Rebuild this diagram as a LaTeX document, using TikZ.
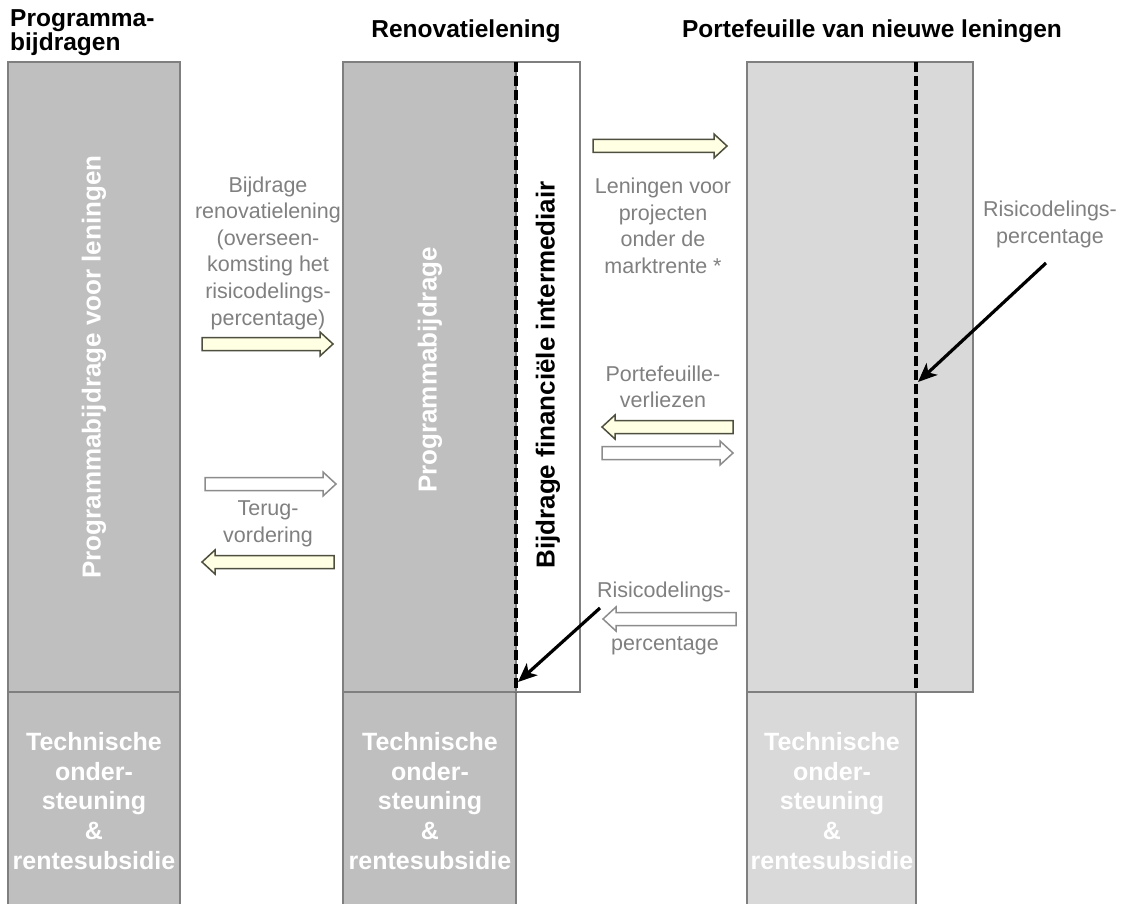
\documentclass[tikz,border=0pt]{standalone}
\usepackage{fontspec}
\setmainfont{Liberation Sans}
\usetikzlibrary{arrows.meta}
\definecolor{boxdark}{HTML}{BFBFBF}
\definecolor{boxlight}{HTML}{D9D9D9}
\definecolor{boxedge}{HTML}{7F7F7F}
\definecolor{labelgray}{HTML}{808080}
\definecolor{paleyellow}{HTML}{FFFFE3}
\definecolor{oliveedge}{HTML}{4F4F3F}
\definecolor{whiteedge}{HTML}{8C8C8C}
\tikzset{
  colbox/.style={draw=boxedge, line width=1.3pt, inner sep=0pt, outer sep=0pt, anchor=north west},
  hdr/.style={font=\fontsize{24.5}{26.5}\selectfont\bfseries, text=black, inner sep=0pt},
  lbl/.style={font=\fontsize{21.5}{26.6}\selectfont, text=labelgray, align=center, inner sep=0pt},
  vtext/.style={rotate=90, font=\fontsize{26}{30}\selectfont\bfseries, inner sep=0pt},
  lowtext/.style={font=\fontsize{25}{29.6}\selectfont\bfseries, text=white, align=center, inner sep=0pt},
  divider/.style={draw=black, line width=3.6pt, dash pattern=on 10pt off 4pt},
  pointer/.style={draw=black, line width=3.2pt, -{Stealth[length=19pt,width=16pt,inset=5pt]}},
  yarrow/.style={draw=oliveedge, line width=1.5pt, fill=paleyellow, line join=miter},
  warrow/.style={draw=whiteedge, line width=1.5pt, fill=white, line join=miter},
}
\newcommand{\blockR}[5]{%
  \draw[#2] (#3,#5-6.5) -- (#4-13,#5-6.5) -- (#4-13,#5-12) -- (#4,#5) -- (#4-13,#5+12) -- (#4-13,#5+6.5) -- (#3,#5+6.5) -- cycle;
  \coordinate (#1) at (#3,#5);}
\newcommand{\blockL}[5]{%
  \draw[#2] (#4,#5-6.5) -- (#3+13,#5-6.5) -- (#3+13,#5-12) -- (#3,#5) -- (#3+13,#5+12) -- (#3+13,#5+6.5) -- (#4,#5+6.5) -- cycle;
  \coordinate (#1) at (#3,#5);}
\begin{document}
\begin{tikzpicture}[x=1pt,y=-1pt]
\useasboundingbox (0,0) rectangle (1138,904);
\fill[white] (0,0) rectangle (1138,904);

% headers
\node[hdr, anchor=base west] (h1a) at (10,27) {Programma-};
\node[hdr, anchor=base west] (h1b) at (10,51) {bijdragen};
\node[hdr, anchor=base] (h2) at (466,38) {Renovatielening};
\node[hdr, anchor=base] (h3) at (872,38) {Portefeuille van nieuwe leningen};

% column 1
\node[colbox, fill=boxdark, minimum width=172, minimum height=630] (c1top) at (8,62) {};
\node[colbox, fill=boxdark, minimum width=172, minimum height=220] (c1low) at (8,692) {};

% column 2
\node[colbox, fill=white, minimum width=237, minimum height=630] (c2all) at (343,62) {};
\node[colbox, fill=boxdark, minimum width=173, minimum height=630] (c2top) at (343,62) {};
\node[colbox, fill=boxdark, minimum width=173, minimum height=220] (c2low) at (343,692) {};
\draw[divider] (c2top.north east) -- (c2top.south east);

% column 3
\node[colbox, fill=boxlight, minimum width=226, minimum height=630] (c3top) at (747,62) {};
\node[colbox, fill=boxlight, minimum width=169, minimum height=220] (c3low) at (747,692) {};
\draw[divider] (c3low.north east |- c3top.north) -- (c3low.north east);

% vertical texts
\node[vtext, text=white] (v1) at (94,367) {Programmabijdrage voor leningen};
\node[vtext, text=white] (v2) at (430,370) {Programmabijdrage};
\node[vtext, text=black] (v3) at (548,375) {Bijdrage financiële intermediair};

% lower texts
\node[lowtext] (t1) at (94,801) {Technische\\onder-\\steuning\\\&\\rentesubsidie};
\node[lowtext] (t2) at (430,801) {Technische\\onder-\\steuning\\\&\\rentesubsidie};
\node[lowtext] (t3) at (832,801) {Technische\\onder-\\steuning\\\&\\rentesubsidie};

% labels
\node[lbl] (l1) at (268,253) {Bijdrage\\renovatielening\\(overseen-\\komsting het\\risicodelings-\\percentage)};
\node[lbl] (l2) at (268,524) {Terug-\\vordering};
\node[lbl] (l3) at (663,226) {Leningen voor\\projecten\\onder de\\marktrente *};
\node[lbl] (l4) at (663,387) {Portefeuille-\\verliezen};
\node[lbl] (l5) at (664,592) {Risicodelings-};
\node[lbl] (l6) at (665,646) {percentage};
\node[lbl] (l7) at (1050,224.5) {Risicodelings-\\percentage};

% block arrows
\blockR{a1}{yarrow}{202}{333}{344}
\blockR{a2}{warrow}{205}{336}{484}
\blockL{a3}{yarrow}{202}{334}{562}
\blockR{a4}{yarrow}{593}{727}{146}
\blockL{a5}{yarrow}{602}{733}{427}
\blockR{a6}{warrow}{602}{733}{453}
\blockL{a7}{warrow}{603}{736}{619}

% pointers
\coordinate (p1s) at (1046,263);
\coordinate (p1e) at (918,382);
\coordinate (p2s) at (600,608);
\coordinate (p2e) at (518,682);
\draw[pointer] (p1s) -- (p1e);
\draw[pointer] (p2s) -- (p2e);
\end{tikzpicture}
\end{document}
